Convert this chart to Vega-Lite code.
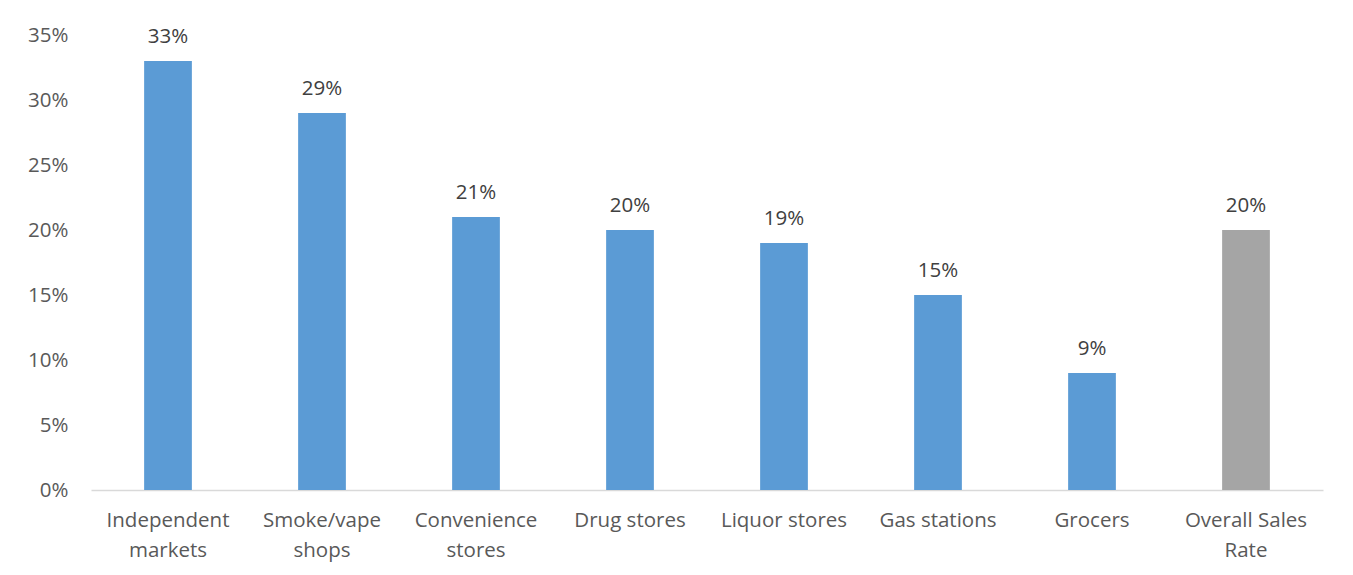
{
  "$schema": "https://vega.github.io/schema/vega-lite/v6.json",
  "width": 1232,
  "height": 455,
  "autosize": {"type": "none"},
  "padding": {"left": 91, "top": 35, "right": 30, "bottom": 85},
  "background": "white",
  "data": {
    "values": [
      {"category": "Independent|markets", "rate": 0.33, "group": "store"},
      {"category": "Smoke/vape|shops", "rate": 0.29, "group": "store"},
      {"category": "Convenience|stores", "rate": 0.21, "group": "store"},
      {"category": "Drug stores", "rate": 0.20, "group": "store"},
      {"category": "Liquor stores", "rate": 0.19, "group": "store"},
      {"category": "Gas stations", "rate": 0.15, "group": "store"},
      {"category": "Grocers", "rate": 0.09, "group": "store"},
      {"category": "Overall Sales|Rate", "rate": 0.20, "group": "overall"}
    ]
  },
  "config": {
    "view": {"stroke": null},
    "font": "Open Sans"
  },
  "encoding": {
    "x": {
      "field": "category",
      "type": "nominal",
      "sort": null,
      "scale": {"paddingInner": 0.69, "paddingOuter": 0.345},
      "axis": {
        "title": null,
        "labelAngle": 0,
        "labelExpr": "split(datum.label, '|')",
        "labelFont": "Open Sans",
        "labelFontSize": 20.5,
        "labelColor": "#595959",
        "labelPadding": 20,
        "labelLineHeight": 30,
        "labelBaseline": "top",
        "ticks": false,
        "domainColor": "#d9d9d9",
        "domainWidth": 1.5
      }
    },
    "y": {
      "field": "rate",
      "type": "quantitative",
      "scale": {"domain": [0, 0.35], "nice": false},
      "axis": {
        "title": null,
        "format": ".0%",
        "values": [0, 0.05, 0.1, 0.15, 0.2, 0.25, 0.3, 0.35],
        "grid": false,
        "domain": false,
        "ticks": false,
        "labelFont": "Open Sans",
        "labelFontSize": 20.5,
        "labelColor": "#595959",
        "labelPadding": 23
      }
    }
  },
  "layer": [
    {
      "mark": {"type": "bar"},
      "encoding": {
        "color": {
          "field": "group",
          "type": "nominal",
          "scale": {"domain": ["store", "overall"], "range": ["#5B9BD5", "#A5A5A5"]},
          "legend": null
        }
      }
    },
    {
      "mark": {"type": "text", "dy": -14, "fontSize": 20.5, "color": "#404040", "font": "Open Sans", "baseline": "bottom"},
      "encoding": {
        "text": {"field": "rate", "type": "quantitative", "format": ".0%"}
      }
    }
  ]
}
